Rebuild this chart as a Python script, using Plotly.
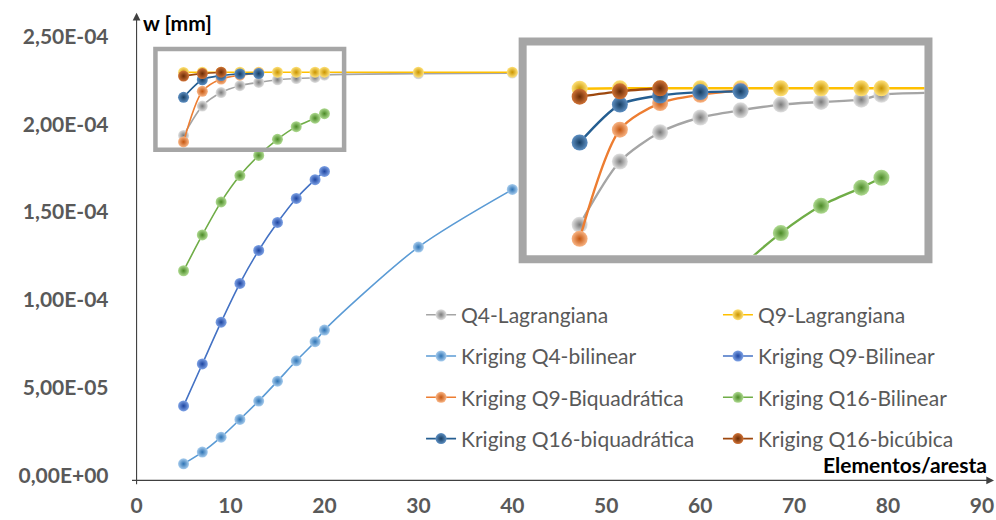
import plotly.graph_objects as go

# ---------------- data ----------------
x_lag = [5, 7, 9, 11, 13, 15, 17, 19, 20, 30, 40]
q4_lagrangiana = [1.937e-4, 2.104e-4, 2.181e-4, 2.220e-4, 2.239e-4, 2.254e-4,
                  2.261e-4, 2.267e-4, 2.280e-4, 2.288e-4, 2.292e-4]
q9_lagrangiana = [2.296e-4, 2.297e-4, 2.297e-4, 2.297e-4, 2.297e-4, 2.297e-4,
                  2.297e-4, 2.297e-4, 2.297e-4, 2.297e-4, 2.297e-4]

x_kq4_bil = [5, 7, 9, 11, 13, 15, 17, 19, 20, 30, 40]
kq4_bilinear = [0.066e-4, 0.133e-4, 0.218e-4, 0.319e-4, 0.424e-4, 0.537e-4,
                0.653e-4, 0.762e-4, 0.828e-4, 1.301e-4, 1.629e-4]

x_k20 = [5, 7, 9, 11, 13, 15, 17, 19, 20]
kq9_bilinear = [0.396e-4, 0.635e-4, 0.873e-4, 1.094e-4, 1.282e-4, 1.441e-4,
                1.578e-4, 1.685e-4, 1.732e-4]
kq16_bilinear = [1.166e-4, 1.370e-4, 1.558e-4, 1.708e-4, 1.823e-4, 1.915e-4,
                 1.987e-4, 2.035e-4, 2.061e-4]

x_k13 = [5, 7, 9, 11, 13]
kq9_biquadratica = [1.900e-4, 2.188e-4, 2.258e-4, 2.280e-4, 2.292e-4]
kq16_biquadratica = [2.154e-4, 2.254e-4, 2.278e-4, 2.287e-4, 2.289e-4]

x_k9 = [5, 7, 9]
kq16_bicubica = [2.275e-4, 2.289e-4, 2.297e-4]

y_tick_vals = [0, 5e-5, 1e-4, 1.5e-4, 2e-4, 2.5e-4]
y_tick_text = ["0,00E+00", "5,00E-05", "1,00E-04", "1,50E-04", "2,00E-04", "2,50E-04"]
x_tick_vals = [0, 10, 20, 30, 40, 50, 60, 70, 80, 90]

series = [
    ("Q4-Lagrangiana", x_lag, q4_lagrangiana),
    ("Q9-Lagrangiana", x_lag, q9_lagrangiana),
    ("Kriging Q4-bilinear", x_kq4_bil, kq4_bilinear),
    ("Kriging Q9-Bilinear", x_k20, kq9_bilinear),
    ("Kriging Q9-Biquadrática", x_k13, kq9_biquadratica),
    ("Kriging Q16-Bilinear", x_k20, kq16_bilinear),
    ("Kriging Q16-biquadrática", x_k13, kq16_biquadratica),
    ("Kriging Q16-bicúbica", x_k9, kq16_bicubica),
]

# ---------------- styles ----------------
styles = [
    dict(line="#A5A5A5", center="#E2E2E2", edge="#7A7A7A", legend="legend"),
    dict(line="#FFC000", center="#FFE27A", edge="#C99400", legend="legend2"),
    dict(line="#5B9BD5", center="#A8CDEE", edge="#2E73B4", legend="legend"),
    dict(line="#4472C4", center="#7FA3E6", edge="#1E45A0", legend="legend2"),
    dict(line="#ED7D31", center="#F9B585", edge="#C45610", legend="legend"),
    dict(line="#70AD47", center="#B0DB92", edge="#4B8A26", legend="legend2"),
    dict(line="#255E91", center="#5D8FC2", edge="#173E63", legend="legend"),
    dict(line="#9E480E", center="#D07236", edge="#6A2C05", legend="legend2"),
]

W, H = 996, 520
def px(v):
    return v / W
def py(v):
    return 1 - v / H

# main plot area (pixels)
L, R, T, B = 131.5, 994.0, 14.0, 486.0
sx = 9.46
sy = 1.776e6
x_max = (R - L) / sx
y_min = -(B - 481.0) / sy
y_max = (481.0 - T) / sy

# inset inner area (pixels)
iL, iR, iT, iB = 524.0, 925.0, 46.0, 257.7
ix0, ix1 = 2.35, 22.14
iy0, iy1 = 1.858e-4, 2.410e-4

fig = go.Figure()

for (name, xs, ys), st in zip(series, styles):
    fig.add_trace(go.Scatter(
        x=xs, y=ys, name=name, mode="lines+markers",
        line=dict(color=st["line"], width=1.6, shape="spline", smoothing=0.8),
        marker=dict(size=11, color=st["center"],
                    gradient=dict(type="radial", color=st["edge"])),
        legend=st["legend"], legendgroup=name,
        xaxis="x", yaxis="y", hoverinfo="skip",
    ))

for (name, xs, ys), st in zip(series, styles):
    fig.add_trace(go.Scatter(
        x=xs, y=ys, name=name, mode="lines+markers", showlegend=False,
        line=dict(color=st["line"], width=2.4, shape="spline", smoothing=0.8),
        marker=dict(size=16, color=st["center"],
                    gradient=dict(type="radial", color=st["edge"])),
        xaxis="x2", yaxis="y2", hoverinfo="skip",
    ))

tick_font = dict(family="Lato", size=21, color="#595959", weight="bold")
legend_font = dict(family="Lato", size=21, color="#595959")

fig.update_layout(
    width=W, height=H,
    margin=dict(l=0, r=0, t=0, b=0),
    paper_bgcolor="white", plot_bgcolor="white",
    xaxis=dict(domain=[px(L), px(R)], range=[0, x_max], tickvals=x_tick_vals,
               showgrid=False, zeroline=False, showline=False, ticks="",
               tickfont=tick_font, ticklabelstandoff=11),
    yaxis=dict(domain=[py(B), py(T)], range=[y_min, y_max], tickvals=y_tick_vals,
               ticktext=y_tick_text, showgrid=False, zeroline=False, showline=False,
               ticks="", tickfont=tick_font, ticklabelstandoff=27),
    xaxis2=dict(domain=[px(iL), px(iR)], range=[ix0, ix1], anchor="y2",
                showgrid=False, zeroline=False, showline=False, showticklabels=False,
                ticks=""),
    yaxis2=dict(domain=[py(iB), py(iT)], range=[iy0, iy1], anchor="x2",
                showgrid=False, zeroline=False, showline=False, showticklabels=False,
                ticks=""),
    legend=dict(x=px(418), y=py(298), xanchor="left", yanchor="top",
                font=legend_font, bgcolor="rgba(0,0,0,0)",
                traceorder="grouped", tracegroupgap=11),
    legend2=dict(x=px(717), y=py(298), xanchor="left", yanchor="top",
                 font=legend_font, bgcolor="rgba(0,0,0,0)",
                 traceorder="grouped", tracegroupgap=11),
    showlegend=True,
)

# zoom rectangle in main chart and inset frame
fig.add_shape(type="rect", xref="paper", yref="paper",
              x0=px(150.5), x1=px(340.5), y0=py(151.5), y1=py(49.5),
              line=dict(color="#A6A6A6", width=4.5), layer="above")
fig.add_shape(type="rect", xref="paper", yref="paper",
              x0=px(520.3), x1=px(929.0), y0=py(262.2), y1=py(41.9),
              line=dict(color="#A6A6A6", width=8), layer="above")

# axes with arrows
fig.add_annotation(x=px(995), y=py(B), xref="paper", yref="paper",
                   ax=-(995 - L), ay=0, text="", showarrow=True,
                   arrowhead=2, arrowsize=1.4, arrowwidth=1.1, arrowcolor="#404040")
fig.add_annotation(x=px(L), y=py(13), xref="paper", yref="paper",
                   ax=0, ay=(B - 13), text="", showarrow=True,
                   arrowhead=2, arrowsize=1.4, arrowwidth=1.1, arrowcolor="#404040")

title_font = dict(family="Lato", size=21, color="#000000", weight="bold")
fig.add_annotation(x=px(136), y=py(23), xref="paper", yref="paper",
                   text="w [mm]", showarrow=False, xanchor="left", yanchor="middle",
                   font=title_font)
fig.add_annotation(x=px(990), y=py(470), xref="paper", yref="paper",
                   text="Elementos/aresta", showarrow=False, xanchor="right",
                   yanchor="middle", font=title_font)

post = (
    "var gd=document.getElementById('{plot_id}');"
    "var de=document.documentElement, b=document.body;"
    "[de,b].forEach(function(e){e.style.margin='0';e.style.padding='0';"
    "e.style.overflow='hidden';e.style.height='520px';e.style.width='996px';});"
    "if(gd){gd.style.position='fixed';gd.style.left='0px';gd.style.top='0px';}"
)
fig.write_html("out.html", config={"displayModeBar": False}, post_script=post)
